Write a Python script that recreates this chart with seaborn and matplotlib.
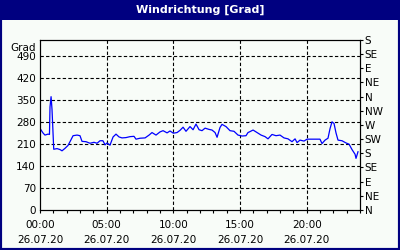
import matplotlib
matplotlib.use("Agg")
import matplotlib.pyplot as plt
from matplotlib.patches import Rectangle
from matplotlib.ticker import MultipleLocator
import numpy as np
import pandas as pd
import seaborn as sns

# ---- data ----
hours = [0.05, 0.22, 0.37, 0.6, 0.71, 0.75, 0.83, 0.9, 1.03, 1.28, 1.5, 1.65, 1.88, 2.1,
         2.25, 2.48, 2.78, 3.0, 3.15, 3.45, 3.75, 4.05, 4.28, 4.5, 4.72, 4.88, 5.03, 5.25,
         5.48, 5.7, 5.93, 6.15, 6.45, 6.75, 7.05, 7.2, 7.5, 7.88, 8.18, 8.4, 8.7, 9.0,
         9.23, 9.53, 9.75, 10.0, 10.28, 10.5, 10.73, 10.95, 11.25, 11.48, 11.7, 11.93,
         12.15, 12.38, 12.68, 12.9, 13.13, 13.28, 13.5, 13.65, 13.95, 14.25, 14.55, 14.85,
         15.15, 15.45, 15.6, 15.75, 15.98, 16.28, 16.58, 16.88, 17.1, 17.4, 17.7, 18.0,
         18.3, 18.6, 18.9, 19.13, 19.28, 19.5, 19.8, 20.03, 20.4, 20.78, 21.0, 21.15,
         21.38, 21.6, 21.75, 21.9, 22.05, 22.2, 22.35, 22.65, 22.95, 23.18, 23.4, 23.63,
         23.7, 23.85]
grad = [256, 245, 238, 241, 240, 327, 360, 320, 193, 195, 192, 188, 196, 205,
        217, 236, 238, 236, 218, 217, 212, 215, 212, 220, 220, 207, 213, 206,
        232, 241, 232, 229, 230, 233, 234, 225, 228, 229, 238, 246, 238, 248,
        252, 245, 251, 244, 246, 253, 263, 250, 265, 255, 273, 255,
        252, 260, 256, 254, 246, 231, 262, 272, 265, 252, 250, 238,
        235, 236, 246, 249, 254, 246, 238, 233, 226, 240, 236, 238,
        229, 226, 217, 226, 214, 222, 219, 225, 225, 225, 225, 211,
        222, 228, 258, 280, 275, 245, 222, 220, 213, 209, 192, 177,
        164, 185]

left_ticks = [0, 70, 140, 210, 280, 350, 420, 490]
right_ticks = [0, 45, 90, 135, 180, 225, 270, 315, 360, 405, 450, 495, 540]
right_labels = ["N", "NE", "E", "SE", "S", "SW", "W", "NW", "N", "NE", "E", "SE", "S"]
x_ticks = [0, 5, 10, 15, 20]
x_labels = ["00:00\n26.07.20", "05:00\n26.07.20", "10:00\n26.07.20",
            "15:00\n26.07.20", "20:00\n26.07.20"]
title = "Windrichtung [Grad]"
y_unit = "Grad"

NAVY = "#000080"
BG = "#F8FCF8"
FS = 7.5

fig = plt.figure(figsize=(4, 2.5), dpi=100, facecolor=BG)
ax = fig.add_axes([0.1, 0.16, 0.8, 0.68])
ax.set_facecolor(BG)

df = pd.DataFrame({"Stunde": hours, "Grad": grad})
sns.lineplot(data=df, x="Stunde", y="Grad", ax=ax, color="#0000FF", linewidth=0.9)

ax.set_xlim(0, 24)
ax.set_ylim(0, 540)
ax.set_xlabel("")
ax.set_ylabel("")

ax.set_yticks(left_ticks)
ax.set_yticklabels([str(t) for t in left_ticks], fontsize=FS)
ax.tick_params(axis="y", length=0, pad=3)

ax.set_xticks(x_ticks)
ax.set_xticklabels(x_labels, fontsize=FS, linespacing=1.7)
ax.xaxis.set_minor_locator(MultipleLocator(1))
ax.tick_params(axis="x", which="both", length=2.5, width=0.8, direction="out", pad=4.5)

for v in left_ticks[1:]:
    ax.axhline(v, color="black", linewidth=0.8, linestyle=(0, (3, 2)), zorder=1)
for v in x_ticks[1:]:
    ax.axvline(v, color="black", linewidth=0.8, linestyle=(0, (3, 2)), zorder=1)

for s in ax.spines.values():
    s.set_color("black")
    s.set_linewidth(0.8)

ax2 = ax.twinx()
ax2.set_ylim(0, 540)
ax2.set_yticks(right_ticks)
ax2.set_yticklabels(right_labels, fontsize=FS)
ax2.tick_params(axis="y", length=2.5, width=0.8, pad=1)
for s in ax2.spines.values():
    s.set_linewidth(0.8)

ax.text(-0.012, 0.985, y_unit, transform=ax.transAxes, ha="right", va="top", fontsize=FS)

# title bar and frame
fig.add_artist(Rectangle((0, 0.92), 1, 0.08, transform=fig.transFigure,
                         facecolor=NAVY, edgecolor="none", zorder=0))
fig.text(0.5, 1 - 10 / 250, title, color="white", fontweight="bold",
         ha="center", va="center", fontsize=8)
fig.add_artist(Rectangle((0, 0), 1, 1, transform=fig.transFigure, fill=False,
                         edgecolor=NAVY, linewidth=3, zorder=5))

fig.savefig("out.png", dpi=100, facecolor=BG)
